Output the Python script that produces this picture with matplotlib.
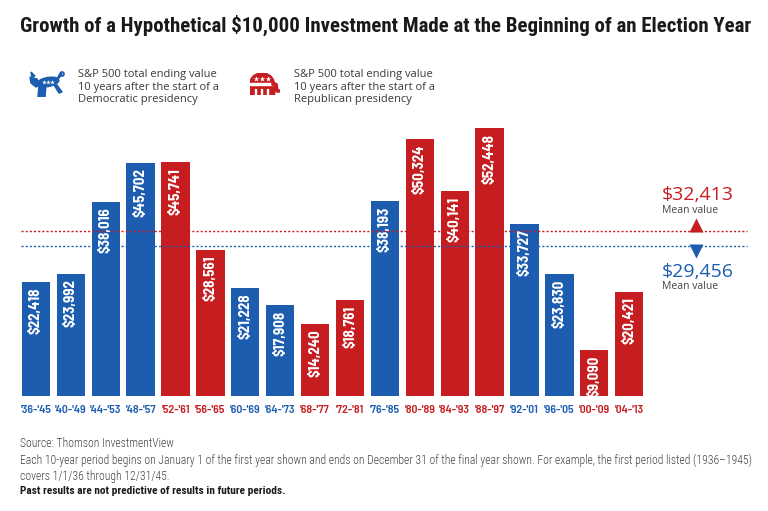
import matplotlib.pyplot as plt
from matplotlib.patches import Polygon, Ellipse, Rectangle

periods = ["'36-'45", "'40-'49", "'44-'53", "'48-'57", "'52-'61", "'56-'65",
           "'60-'69", "'64-'73", "'68-'77", "'72-'81", "'76-'85", "'80-'89",
           "'84-'93", "'88-'97", "'92-'01", "'96-'05", "'00-'09", "'04-'13"]
values = [22418, 23992, 38016, 45702, 45741, 28561, 21228, 17908, 14240,
          18761, 38193, 50324, 40141, 52448, 33727, 23830, 9090, 20421]
party = ['D', 'D', 'D', 'D', 'R', 'R', 'D', 'D', 'R', 'R', 'D', 'R', 'R', 'R',
         'D', 'D', 'R', 'R']
mean_rep = 32413
mean_dem = 29456

BLUE = '#1c5db0'
RED = '#c51d20'
GRAY = '#444444'
colors = {'D': BLUE, 'R': RED}

din = ['Barlow Semi Condensed', 'DejaVu Sans']
cond = ['Roboto Condensed', 'DejaVu Sans']
body = ['Open Sans', 'DejaVu Sans']

fig = plt.figure(figsize=(7.68, 5.11), dpi=100)
ax = fig.add_axes([0, 0, 1, 1])
# pixel mapping: bar i centre at 35.9 + 34.9*i px, baseline at 396.5 px, 5.12 px per $1000
ax.set_xlim(-1.029, 20.977)
ax.set_ylim(-22364, 77441)
ax.axis('off')

x = list(range(len(values)))
ax.bar(x, values, width=0.81, color=[colors[p] for p in party])

for i, v in enumerate(values):
    ax.text(i, v - 1100, f'${v:,}', rotation=90, ha='center', va='top',
            color='white', fontsize=10.8, fontweight='bold', family=din)
    ax.text(i, -2700, periods[i], ha='center', va='center',
            color=colors[party[i]], fontsize=8.5, fontweight='semibold', family=din)

# mean lines
ax.plot([-0.43, 20.37], [mean_rep, mean_rep], color=RED, lw=1, ls=(0, (1.5, 1.5)))
ax.plot([-0.43, 20.37], [mean_dem, mean_dem], color=BLUE, lw=1, ls=(0, (1.5, 1.5)))
ax.plot([18.9], [mean_rep + 1000], marker='^', color=RED, ms=10, mec='none')
ax.plot([18.9], [mean_dem - 1000], marker='v', color=BLUE, ms=10, mec='none')
ax.text(17.94, 39355, f'${mean_rep:,}', color=RED, fontsize=14, family=body,
        ha='left', va='center', fontweight='medium')
ax.text(17.94, 36300, 'Mean value', color=GRAY, fontsize=7.5, family=body,
        ha='left', va='center')
ax.text(17.94, 24375, f'${mean_dem:,}', color=BLUE, fontsize=14, family=body,
        ha='left', va='center', fontweight='medium')
ax.text(17.94, 21450, 'Mean value', color=GRAY, fontsize=7.5, family=body,
        ha='left', va='center')

# title
fig.text(20 / 768, 1 - 25 / 511,
         'Growth of a Hypothetical $10,000 Investment Made at the Beginning of an Election Year',
         fontsize=15, fontweight='bold', family=cond,
         color='#1a1a1a', va='center', ha='left')

# legend texts
leg = 'S&P 500 total ending value\n10 years after the start of a\n{} presidency'
fig.text(78 / 768, 1 - 87 / 511, leg.format('Democratic'), fontsize=8, color='#3a3a3a',
         family=body, va='center', ha='left', linespacing=1.15)
fig.text(294 / 768, 1 - 87 / 511, leg.format('Republican'), fontsize=8, color='#3a3a3a',
         family=body, va='center', ha='left', linespacing=1.15)

# donkey icon
axd = fig.add_axes([28 / 768, 1 - 97 / 511, 38 / 768, 27 / 511])
axd.set_xlim(0, 38)
axd.set_ylim(0, 27)
axd.axis('off')
axd.add_patch(Ellipse((20, 15), 22, 9, angle=10, color=BLUE))
axd.add_patch(Polygon([[2, 20], [9, 18], [12, 12], [8, 10], [3, 14]], color=BLUE))
axd.add_patch(Polygon([[4, 20], [3, 25], [7, 21]], color=BLUE))
axd.add_patch(Polygon([[11, 12], [14, 12], [13, 0], [10, 0]], color=BLUE))
axd.add_patch(Polygon([[15, 12], [18, 12], [17, 0], [14, 0]], color=BLUE))
axd.add_patch(Polygon([[26, 12], [29, 12], [34, 5], [31, 4]], color=BLUE))
axd.add_patch(Polygon([[29, 18], [31, 22], [33, 24], [34, 23], [31, 19]], color=BLUE))
axd.add_patch(Ellipse((34, 23), 4, 4, fill=False, ec=BLUE, lw=1.2))
for sx in (16, 20, 24):
    axd.plot(sx, 15, marker='*', color='white', ms=3.5, mec='none')

# elephant icon
axe = fig.add_axes([250 / 768, 1 - 95 / 511, 30 / 768, 22 / 511])
axe.set_xlim(0, 30)
axe.set_ylim(0, 22)
axe.axis('off')
axe.add_patch(Ellipse((12, 12), 24, 20, color=RED))
axe.add_patch(Rectangle((0, 0), 24, 12, color=RED))
axe.add_patch(Rectangle((0, 10.5), 24, 2, color='white'))
axe.add_patch(Polygon([[22, 14], [27, 11], [28, 5], [30, 5], [30, 3], [26, 3],
                       [25, 9], [22, 10]], color=RED))
axe.add_patch(Rectangle((5, 0), 1.2, 6, color='white'))
axe.add_patch(Rectangle((11, 0), 1.2, 6, color='white'))
axe.add_patch(Rectangle((17, 0), 1.2, 6, color='white'))
for sx in (6, 12, 18):
    axe.plot(sx, 16.5, marker='*', color='white', ms=4, mec='none')

# footer
fig.text(20 / 768, 1 - 443 / 511, 'Source: Thomson InvestmentView', fontsize=8.4,
         color=GRAY, family=cond, fontweight='light', va='center', ha='left')
fig.text(20 / 768, 1 - 468 / 511,
         'Each 10-year period begins on January 1 of the first year shown and ends on December 31 '
         'of the final year shown. For example, the first period listed (1936\u20131945)\n'
         'covers 1/1/36 through 12/31/45.',
         fontsize=8.4, color=GRAY, family=cond, fontweight='light', va='center', ha='left',
         linespacing=1.3)
fig.text(20 / 768, 1 - 491 / 511, 'Past results are not predictive of results in future periods.',
         fontsize=8.2, color='#1a1a1a', fontweight='bold', family=cond,
         va='center', ha='left')

fig.savefig('out.png', dpi=100, facecolor='white')
